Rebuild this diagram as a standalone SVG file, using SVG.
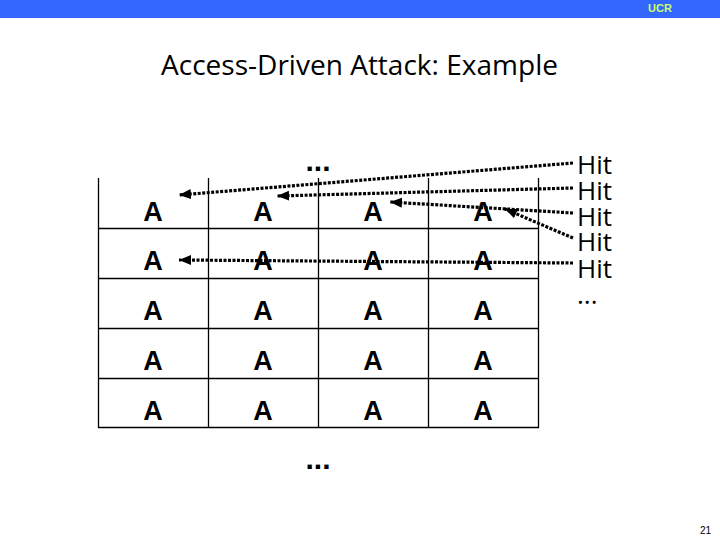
<svg xmlns="http://www.w3.org/2000/svg" width="720" height="540" viewBox="0 0 720 540">
<style>
.grid{stroke:#000;stroke-width:1.3;fill:none}
.a{font-family:"Liberation Sans",Arial,sans-serif;font-weight:bold;font-size:27px;text-anchor:middle;fill:#000}
.hit{font-family:"Open Sans","Noto Sans",sans-serif;font-size:26px;fill:#000}
.dots{font-family:"Liberation Sans",Arial,sans-serif;font-weight:bold;font-size:30px;fill:#000}
.conn{stroke:#000;stroke-width:3.2;stroke-dasharray:3 1.5;fill:none;marker-end:url(#arrow)}
</style>
<defs>
<marker id="arrow" markerUnits="userSpaceOnUse" markerWidth="13" markerHeight="12" refX="12" refY="5.5" orient="auto">
<path d="M0 0.5L12 5.5L0 10.5Z" fill="#000"/>
</marker>
</defs>
<rect width="720" height="540" fill="#fff"/>
<rect id="header" width="720" height="18" fill="#3366ff"/>
<text x="660" y="12" font-family="Liberation Sans,Arial,sans-serif" font-weight="bold" font-size="11" text-anchor="middle" fill="#ccff66">UCR</text>
<text id="title" x="161" y="75" font-family="Open Sans,Noto Sans,sans-serif" font-size="28" textLength="397" lengthAdjust="spacingAndGlyphs" fill="#000">Access-Driven Attack: Example</text>
<g id="table">
<path class="grid" d="M98.5 178V428M208.5 178V428M318.5 178V428M428.5 178V428M538.5 178V428M98 228.5H539M98 278.5H539M98 328.5H539M98 378.5H539M98 427.5H539"/>
<g id="cells">
<text class="a" x="153" y="221">A</text><text class="a" x="263" y="221">A</text><text class="a" x="373" y="221">A</text><text class="a" x="483" y="221">A</text>
<text class="a" x="153" y="270">A</text><text class="a" x="263" y="270">A</text><text class="a" x="373" y="270">A</text><text class="a" x="483" y="270">A</text>
<text class="a" x="153" y="320">A</text><text class="a" x="263" y="320">A</text><text class="a" x="373" y="320">A</text><text class="a" x="483" y="320">A</text>
<text class="a" x="153" y="370">A</text><text class="a" x="263" y="370">A</text><text class="a" x="373" y="370">A</text><text class="a" x="483" y="370">A</text>
<text class="a" x="153" y="420">A</text><text class="a" x="263" y="420">A</text><text class="a" x="373" y="420">A</text><text class="a" x="483" y="420">A</text>
</g>
</g>
<text id="dots-top" class="dots" x="305.5" y="171">...</text>
<text id="dots-bottom" class="dots" x="305.5" y="469">...</text>
<g id="hits">
<text class="hit" x="577" y="174">Hit</text>
<text class="hit" x="577" y="200">Hit</text>
<text class="hit" x="577" y="226">Hit</text>
<text class="hit" x="577" y="251">Hit</text>
<text class="hit" x="577" y="278">Hit</text>
<text class="hit" x="577" y="304">...</text>
</g>
<g id="connectors">
<path class="conn" d="M573 163L179 195"/>
<path class="conn" d="M573 188L277 196"/>
<path class="conn" d="M573 213L390 202"/>
<path class="conn" d="M573 238L505 209"/>
<path class="conn" d="M573 263L179 260"/>
</g>
<text id="page" x="711" y="533.5" font-family="Liberation Sans,Arial,sans-serif" font-size="10" text-anchor="end" fill="#000">21</text>
</svg>
